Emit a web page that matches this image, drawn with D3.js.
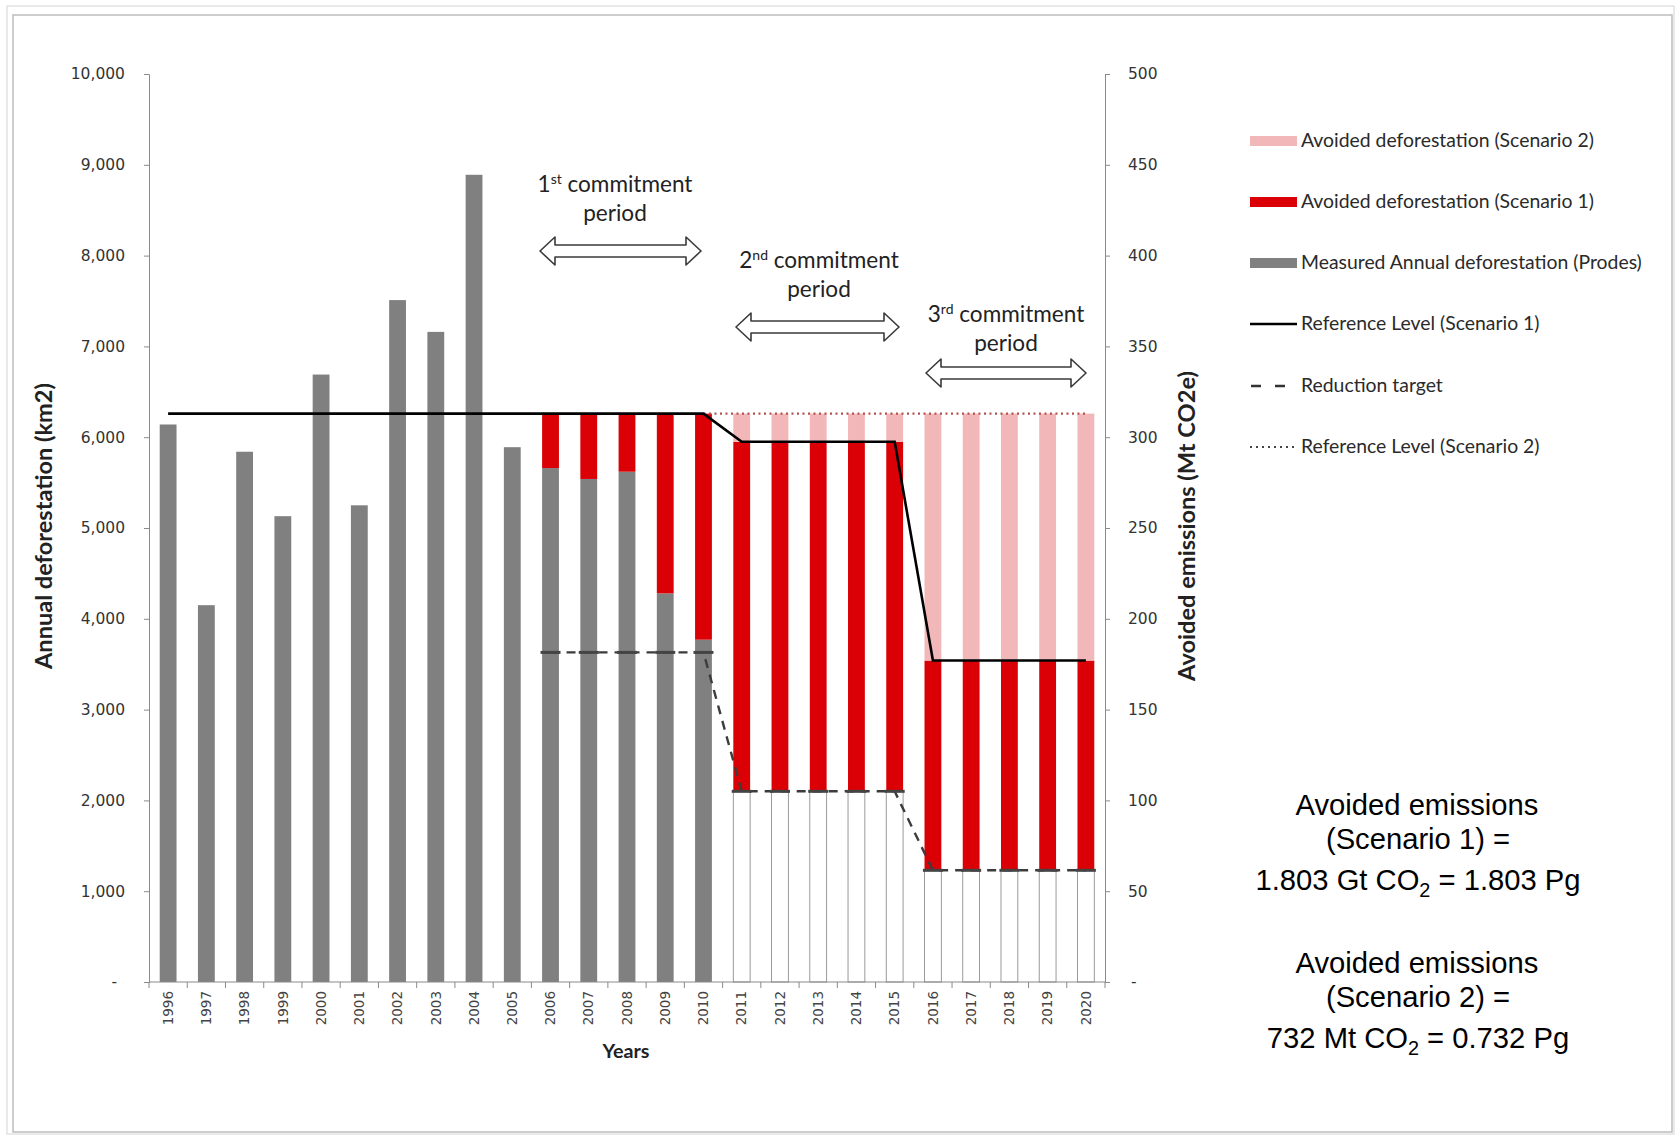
<!DOCTYPE html>
<html>
<head>
<meta charset="utf-8">
<script src="https://cdn.jsdelivr.net/npm/d3@7"></script>
<style>
  html, body { margin: 0; padding: 0; background: #ffffff; }
  svg { display: block; }
</style>
</head>
<body>
<svg id="chart" width="1678" height="1136"></svg>
<script>
// ---------------- DATA ----------------
const years = ["1996","1997","1998","1999","2000","2001","2002","2003","2004","2005",
               "2006","2007","2008","2009","2010","2011","2012","2013","2014","2015",
               "2016","2017","2018","2019","2020"];
// Measured annual deforestation (Prodes), km2
const measured = [6140,4150,5840,5130,6690,5250,7510,7160,8890,5890,
                  5660,5540,5620,4280,3770,null,null,null,null,null,
                  null,null,null,null,null];
// Projected deforestation at the reduction target (unfilled bars), km2
const projected = [null,null,null,null,null,null,null,null,null,null,
                   null,null,null,null,null,2100,2100,2100,2100,2100,
                   1230,1230,1230,1230,1230];
// Avoided deforestation (Scenario 1), km2
const avoided1 = [null,null,null,null,null,null,null,null,null,null,
                  600,720,640,1980,2490,3850,3850,3850,3850,3850,
                  2310,2310,2310,2310,2310];
// Avoided deforestation (Scenario 2), km2
const avoided2 = [null,null,null,null,null,null,null,null,null,null,
                  null,null,null,null,null,310,310,310,310,310,
                  2720,2720,2720,2720,2720];
// Reference Level (Scenario 1)
const refLevel1 = [6260,6260,6260,6260,6260,6260,6260,6260,6260,6260,
                   6260,6260,6260,6260,6260,5950,5950,5950,5950,5950,
                   3540,3540,3540,3540,3540];
// Reference Level (Scenario 2)
const refLevel2 = [null,null,null,null,null,null,null,null,null,null,
                   null,null,null,null,6260,6260,6260,6260,6260,6260,
                   6260,6260,6260,6260,6260];
// Reduction target
const reductionTarget = [null,null,null,null,null,null,null,null,null,null,
                         3630,3630,3630,3630,3630,2100,2100,2100,2100,2100,
                         1230,1230,1230,1230,1230];
// Axis ticks
const leftTicks = [0,1000,2000,3000,4000,5000,6000,7000,8000,9000,10000];
const leftTickLabels = ["-","1,000","2,000","3,000","4,000","5,000","6,000","7,000","8,000","9,000","10,000"];
const rightTicks = [0,50,100,150,200,250,300,350,400,450,500];
const rightTickLabels = ["-","50","100","150","200","250","300","350","400","450","500"];
// Legend
const legendLabels = ["Avoided deforestation (Scenario 2)","Avoided deforestation (Scenario 1)",
  "Measured Annual deforestation (Prodes)","Reference Level (Scenario 1)","Reduction target",
  "Reference Level (Scenario 2)"];
const legendKinds = ["pink","red","gray","solid","dashed","dotted"];
// Commitment periods
const periodOrdinals = ["1","2","3"];
const periodSuffix = ["st","nd","rd"];

// ---------------- LAYOUT / STYLE ----------------
const svg = d3.select("#chart");
const W = 1678, H = 1136;
const plotLeft = 149, plotRight = 1105, plotTop = 74, plotBottom = 982;
const COL = { gray: "#808080", red: "#da0006", pink: "#f2b7b9", axis: "#8a8a8a", text: "#333333" };

function fitWidth(sel, target) {
  const w = sel.node().getComputedTextLength();
  const fs = parseFloat(sel.attr("font-size"));
  const nfs = fs * target / w;
  sel.attr("font-size", nfs);
  return nfs;
}

// frame
svg.append("rect").attr("x", 0).attr("y", 0).attr("width", W).attr("height", H).attr("fill", "#fff");
svg.append("rect").attr("x", 7).attr("y", 6).attr("width", 1667).attr("height", 1128)
  .attr("fill", "none").attr("stroke", "#d4d4d4").attr("stroke-width", 1);
svg.append("rect").attr("x", 13).attr("y", 15).attr("width", 1659).attr("height", 1117)
  .attr("fill", "none").attr("stroke", "#bdbdbd").attr("stroke-width", 1.5);

// scales
const x = d3.scaleBand().domain(years).range([plotLeft, plotRight]).paddingInner(0.56).paddingOuter(0.28);
const cx = d => x(d) + x.bandwidth() / 2;
const yL = d3.scaleLinear().domain([0, 10000]).range([plotBottom, plotTop]);
const yR = d3.scaleLinear().domain([0, 500]).range([plotBottom, plotTop]);

// ---------------- BARS ----------------
const rows = years.map((yr, i) => ({
  year: yr, measured: measured[i], projected: projected[i], avoided1: avoided1[i], avoided2: avoided2[i]
}));
const keys = ["measured", "projected", "avoided1", "avoided2"];
const stack = d3.stack().keys(keys).value((d, k) => d[k] == null ? 0 : d[k]);
const series = stack(rows);
const fills = { measured: COL.gray, projected: "#ffffff", avoided1: COL.red, avoided2: COL.pink };
const gBars = svg.append("g");
series.forEach(s => {
  gBars.selectAll(null).data(s.filter(d => d.data[s.key] != null)).enter().append("rect")
    .attr("x", d => x(d.data.year))
    .attr("width", x.bandwidth())
    .attr("y", d => yL(d[1]))
    .attr("height", d => yL(d[0]) - yL(d[1]))
    .attr("fill", fills[s.key])
    .attr("stroke", s.key === "projected" ? "#8f8f8f" : "none")
    .attr("stroke-width", s.key === "projected" ? 0.9 : 0);
});

// ---------------- AXES ----------------
const axisL = d3.axisLeft(yL).tickValues(leftTicks).tickSize(5).tickFormat((d, i) => leftTickLabels[i]);
const gL = svg.append("g").attr("transform", `translate(${plotLeft},0)`).call(axisL);
gL.select(".domain").attr("stroke", COL.axis);
gL.selectAll(".tick line").attr("stroke", COL.axis);
gL.selectAll(".tick text").attr("font-family", "DejaVu Sans").attr("font-size", 15.5)
  .attr("fill", COL.text).attr("x", -24);
gL.selectAll(".tick text").filter((d) => d === 0).attr("x", -32);

const axisR = d3.axisRight(yR).tickValues(rightTicks).tickSize(5).tickFormat((d, i) => rightTickLabels[i]);
const gR = svg.append("g").attr("transform", `translate(${plotRight},0)`).call(axisR);
gR.select(".domain").attr("stroke", COL.axis);
gR.selectAll(".tick line").attr("stroke", COL.axis);
gR.selectAll(".tick text").attr("font-family", "DejaVu Sans").attr("font-size", 15.5)
  .attr("fill", COL.text).attr("x", 23);
gR.selectAll(".tick text").filter((d) => d === 0).attr("x", 26);

// x axis
const axisX = d3.axisBottom(x).tickSize(0).tickFormat(d => d);
const gX = svg.append("g").attr("transform", `translate(0,${plotBottom})`).call(axisX);
gX.select(".domain").attr("stroke", COL.axis).attr("d", `M${plotLeft},0H${plotRight}`);
gX.selectAll(".tick text")
  .attr("font-family", "DejaVu Sans").attr("font-size", 13.5).attr("fill", "#444")
  .attr("text-anchor", "end").attr("transform", "rotate(-90)")
  .attr("x", -9).attr("y", 0).attr("dy", "0.35em");
// category boundary ticks
const bounds = years.map(yr => x(yr) - x.step() * x.paddingInner() / 2).concat([plotRight]);
gX.selectAll(".bt").data(bounds).enter().append("line")
  .attr("x1", d => d).attr("x2", d => d).attr("y1", 0).attr("y2", 6)
  .attr("stroke", COL.axis);

// ---------------- LINES ----------------
const lineGen = d3.line().defined(d => d.v != null).x(d => cx(d.year)).y(d => yL(d.v));
const pts = arr => years.map((yr, i) => ({ year: yr, v: arr[i] }));

svg.append("path").datum(pts(refLevel2)).attr("d", lineGen)
  .attr("fill", "none").attr("stroke", "#b3504e").attr("stroke-width", 2.2)
  .attr("stroke-dasharray", "2,3.5");

svg.append("path").datum(pts(reductionTarget)).attr("d", lineGen)
  .attr("fill", "none").attr("stroke", "#3c3c3c").attr("stroke-width", 2.4)
  .attr("stroke-dasharray", "9,7");
svg.append("g").selectAll("line").data(pts(reductionTarget).filter(d => d.v != null)).enter().append("line")
  .attr("x1", d => cx(d.year) - 10).attr("x2", d => cx(d.year) + 10)
  .attr("y1", d => yL(d.v)).attr("y2", d => yL(d.v))
  .attr("stroke", "#444").attr("stroke-width", 3);

svg.append("path").datum(pts(refLevel1)).attr("d", lineGen)
  .attr("fill", "none").attr("stroke", "#000").attr("stroke-width", 2.6);

// ---------------- AXIS TITLES ----------------
const tL = svg.append("text").text("Annual deforestation (km2)")
  .attr("font-family", "Lato").attr("font-weight", "bold").attr("font-size", 20).attr("fill", "#222")
  .attr("text-anchor", "middle");
fitWidth(tL, 286);
tL.attr("transform", "translate(52,526) rotate(-90)");

const tR = svg.append("text").text("Avoided emissions (Mt CO2e)")
  .attr("font-family", "Lato").attr("font-weight", "bold").attr("font-size", 20).attr("fill", "#222")
  .attr("text-anchor", "middle");
fitWidth(tR, 310);
tR.attr("transform", "translate(1195,526) rotate(-90)");

const tX = svg.append("text").text("Years")
  .attr("font-family", "Lato").attr("font-weight", "bold").attr("font-size", 18).attr("fill", "#222")
  .attr("text-anchor", "middle").attr("x", 626).attr("y", 1058);
fitWidth(tX, 47);

// ---------------- COMMITMENT PERIODS ----------------
const periodText = [{ cx: 615, y1: 192, y2: 221, w: 155 }, { cx: 819, y1: 268, y2: 297, w: 164 }, { cx: 1006, y1: 322, y2: 351, w: 159 }];
const periodArrow = [{ x1: 540, x2: 701, cy: 251 }, { x1: 736, x2: 899, cy: 327 }, { x1: 926, x2: 1086, cy: 373 }];
let periodFS = null;
periodText.forEach((p, i) => {
  const t = svg.append("text").attr("font-family", "Lato").attr("font-size", 20).attr("fill", "#222")
    .attr("text-anchor", "middle").attr("x", p.cx).attr("y", p.y1);
  t.append("tspan").text(periodOrdinals[i]);
  t.append("tspan").text(periodSuffix[i]).attr("font-size", "62%").attr("dy", -8);
  t.append("tspan").text(" commitment").attr("dy", 8);
  if (periodFS == null) periodFS = fitWidth(t, p.w); else t.attr("font-size", periodFS);
  svg.append("text").text("period").attr("font-family", "Lato").attr("font-size", periodFS).attr("fill", "#222")
    .attr("text-anchor", "middle").attr("x", p.cx).attr("y", p.y2);
  const a = periodArrow[i], h = 6, Hh = 14, L = 15, c = a.cy;
  const d = `M${a.x1},${c} L${a.x1 + L},${c - Hh} L${a.x1 + L},${c - h} L${a.x2 - L},${c - h} L${a.x2 - L},${c - Hh} L${a.x2},${c} L${a.x2 - L},${c + Hh} L${a.x2 - L},${c + h} L${a.x1 + L},${c + h} L${a.x1 + L},${c + Hh} Z`;
  svg.append("path").attr("d", d).attr("fill", "#fff").attr("stroke", "#3a3a3a").attr("stroke-width", 1.6)
    .attr("stroke-linejoin", "round");
});

// ---------------- LEGEND ----------------
const legY = [141, 202, 263, 324, 386, 447];
const lg = svg.append("g");
let legFS = null;
legendLabels.forEach((lab, i) => {
  const y = legY[i], k = legendKinds[i];
  if (k === "pink" || k === "red" || k === "gray") {
    lg.append("rect").attr("x", 1250).attr("y", y - 5).attr("width", 47).attr("height", 10)
      .attr("fill", k === "pink" ? COL.pink : k === "red" ? COL.red : COL.gray);
  } else if (k === "solid") {
    lg.append("line").attr("x1", 1250).attr("x2", 1297).attr("y1", y).attr("y2", y)
      .attr("stroke", "#000").attr("stroke-width", 2.6);
  } else if (k === "dashed") {
    lg.append("line").attr("x1", 1251).attr("x2", 1297).attr("y1", y).attr("y2", y)
      .attr("stroke", "#333").attr("stroke-width", 2.6).attr("stroke-dasharray", "10,14");
  } else {
    lg.append("line").attr("x1", 1250).attr("x2", 1297).attr("y1", y).attr("y2", y)
      .attr("stroke", "#444").attr("stroke-width", 2).attr("stroke-dasharray", "2,4");
  }
  const t = lg.append("text").text(lab).attr("font-family", "Lato").attr("font-size", 16).attr("fill", "#2a2a2a")
    .attr("x", 1301).attr("y", y + 6);
  if (legFS == null) legFS = fitWidth(t, 293); else t.attr("font-size", legFS);
});

// ---------------- TOTALS TEXT ----------------
function co2Line(g, pre, post, yb) {
  const t = g.append("text").attr("font-family", "Liberation Sans").attr("font-size", 26).attr("fill", "#000")
    .attr("text-anchor", "middle").attr("x", 1418).attr("y", yb);
  t.append("tspan").text(pre + " CO");
  t.append("tspan").text("2").attr("font-size", "68%").attr("dy", 7);
  t.append("tspan").text(" = " + post).attr("dy", -7);
  return t;
}
const tg = svg.append("g");
const a1 = tg.append("text").text("Avoided emissions").attr("font-family", "Liberation Sans").attr("font-size", 26)
  .attr("fill", "#000").attr("text-anchor", "middle").attr("x", 1417).attr("y", 815);
const totFS = fitWidth(a1, 243);
tg.append("text").text("(Scenario 1) =").attr("font-family", "Liberation Sans").attr("font-size", totFS)
  .attr("fill", "#000").attr("text-anchor", "middle").attr("x", 1418).attr("y", 849);
co2Line(tg, "1.803 Gt", "1.803 Pg", 890).attr("font-size", totFS);
tg.append("text").text("Avoided emissions").attr("font-family", "Liberation Sans").attr("font-size", totFS)
  .attr("fill", "#000").attr("text-anchor", "middle").attr("x", 1417).attr("y", 973);
tg.append("text").text("(Scenario 2) =").attr("font-family", "Liberation Sans").attr("font-size", totFS)
  .attr("fill", "#000").attr("text-anchor", "middle").attr("x", 1418).attr("y", 1007);
co2Line(tg, "732 Mt", "0.732 Pg", 1048).attr("font-size", totFS);
</script>
</body>
</html>
